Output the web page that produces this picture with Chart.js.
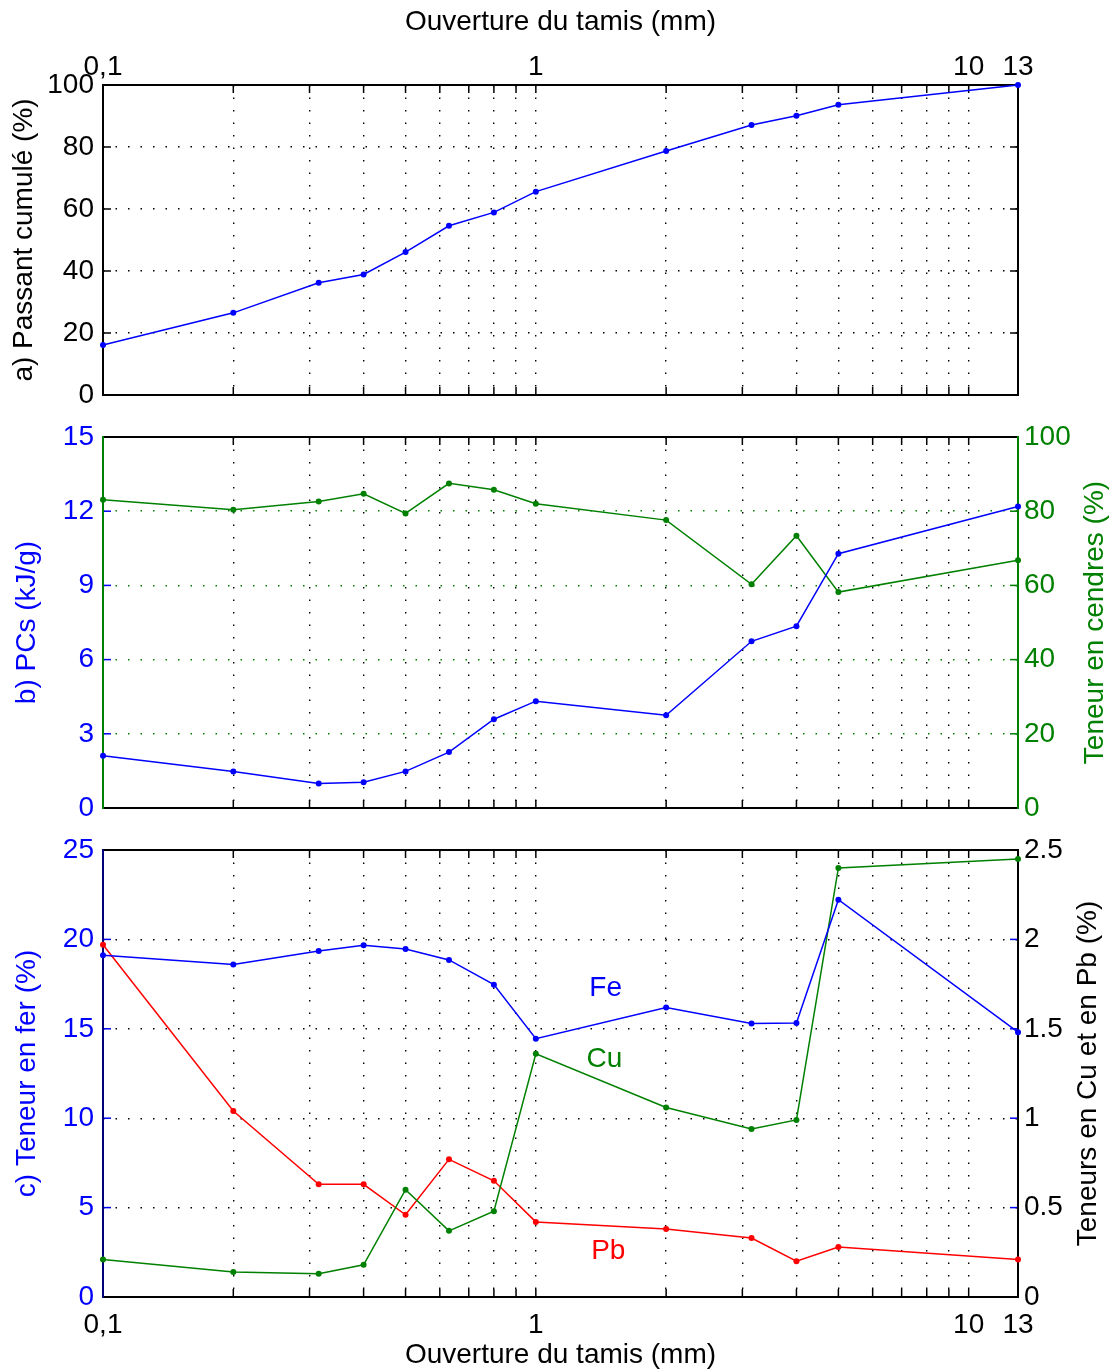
<!DOCTYPE html>
<html>
<head>
<meta charset="utf-8">
<script src="https://cdn.jsdelivr.net/npm/chart.js@4.4.1/dist/chart.umd.min.js"></script>
<style>
  html, body { margin: 0; padding: 0; background: #fff; }
  #page { position: relative; width: 1113px; height: 1372px; }
  .panel { position: absolute; left: 0; width: 1113px; }
  canvas { display: block; }
</style>
</head>
<body>
<div id="page">
  <div class="panel" style="top:0"><canvas id="chartA" width="1113" height="420"></canvas></div>
  <div class="panel" style="top:420px"><canvas id="chartB" width="1113" height="410"></canvas></div>
  <div class="panel" style="top:830px"><canvas id="chartC" width="1113" height="542"></canvas></div>
</div>
<script>
// Ouverture du tamis (mm)
const sieveSizes = [0.1, 0.2, 0.315, 0.4, 0.5, 0.63, 0.8, 1, 2, 3.15, 4, 5, 13];

// a) passant cumulé (%)
const passantCumule = [16.1, 26.5, 36.2, 38.9, 46.1, 54.6, 58.9, 65.6, 78.7, 87.1, 90.1, 93.6, 100];

// b) PCs (kJ/g) et teneur en cendres (%)
const pcs = [2.11, 1.48, 0.99, 1.04, 1.48, 2.26, 3.59, 4.32, 3.75, 6.74, 7.35, 10.28, 12.19];
const cendres = [83.1, 80.4, 82.6, 84.7, 79.4, 87.5, 85.8, 82.0, 77.6, 60.3, 73.4, 58.2, 66.8];

// c) teneurs en Fe (%), Cu et Pb (%)
const fer = [19.12, 18.59, 19.35, 19.67, 19.46, 18.85, 17.47, 14.45, 16.19, 15.3, 15.32, 22.22, 14.81];
const cuivre = [0.21, 0.14, 0.13, 0.18, 0.60, 0.37, 0.48, 1.36, 1.06, 0.94, 0.99, 2.40, 2.45];
const plomb = [1.97, 1.04, 0.63, 0.63, 0.46, 0.77, 0.65, 0.42, 0.38, 0.33, 0.20, 0.28, 0.21];

// axe x logarithmique : graduations et libellés
const xGridValues = [0.1, 0.2, 0.3, 0.4, 0.5, 0.6, 0.7, 0.8, 0.9, 1, 2, 3, 4, 5, 6, 7, 8, 9, 10, 13];
const xLabelValues = [0.1, 1, 10, 13];
const xLabelTexts = ['0,1', '1', '10', '13'];

// étiquettes des courbes (panneau c)
const curveNames = ['Fe', 'Cu', 'Pb'];
const curveNameX = [1.45, 1.44, 1.47];
const curveNameY = [17.25, 13.3, 2.57];

const BLUE = '#0000ff';
const GREEN = '#008000';
const RED = '#ff0000';
const NAVY = '#00007a';
const DOTS = [1.5, 11];
const TICK = 8;
const FONT = "'Liberation Sans', Arial, Helvetica, sans-serif";

Chart.defaults.font.family = FONT;
Chart.defaults.font.size = 28;
Chart.defaults.color = '#000';
Chart.defaults.animation = false;
Chart.defaults.plugins.legend.display = false;
Chart.defaults.plugins.tooltip.enabled = false;

// Cadre, graduations intérieures, étiquettes et titre de droite
const axesBox = {
  id: 'axesBox',
  beforeDatasetsDraw(chart, args, o) {
    const { ctx, chartArea: a, scales } = chart;
    const seg = (x1, y1, x2, y2, c) => {
      ctx.strokeStyle = c;
      ctx.beginPath();
      ctx.moveTo(x1, y1);
      ctx.lineTo(x2, y2);
      ctx.stroke();
    };
    ctx.save();
    ctx.lineWidth = 1.5;
    scales.x.ticks.forEach(t => {
      const px = scales.x.getPixelForValue(t.value);
      seg(px, a.top, px, a.top + TICK, '#000');
      seg(px, a.bottom, px, a.bottom - TICK, '#000');
    });
    (o.yTicks || []).forEach(spec => {
      const s = scales[spec.axis];
      s.ticks.forEach(t => {
        const py = s.getPixelForValue(t.value);
        if (spec.left) seg(a.left, py, a.left + TICK, py, spec.color);
        if (spec.right) seg(a.right, py, a.right - TICK, py, spec.color);
      });
    });
    ctx.lineWidth = 2;
    ctx.lineCap = 'square';
    seg(a.left, a.top, a.right, a.top, o.top);
    seg(a.left, a.bottom, a.right, a.bottom, o.bottom);
    seg(a.left, a.top, a.left, a.bottom, o.left);
    seg(a.right, a.top, a.right, a.bottom, o.right);
    ctx.restore();
  },
  afterDatasetsDraw(chart, args, o) {
    const { ctx, chartArea: a, scales } = chart;
    ctx.save();
    ctx.font = '28px ' + FONT;
    ctx.textAlign = 'center';
    ctx.textBaseline = 'middle';
    (o.labels || []).forEach(l => {
      ctx.fillStyle = l.color;
      ctx.fillText(l.text, scales.x.getPixelForValue(l.x), scales.y.getPixelForValue(l.y));
    });
    if (o.rightTitle) {
      ctx.translate(chart.width - o.rightTitle.inset, (a.top + a.bottom) / 2);
      ctx.rotate(-Math.PI / 2);
      ctx.fillStyle = o.rightTitle.color;
      ctx.fillText(o.rightTitle.text, 0, 0);
    }
    ctx.restore();
  }
};

function xLabel(value) {
  const i = xLabelValues.indexOf(value);
  return i >= 0 ? xLabelTexts[i] : '';
}

function xAxis(position, height, showLabels, pad, title, titlePad) {
  return {
    type: 'logarithmic',
    position: position,
    min: 0.1,
    max: 13,
    afterBuildTicks: axis => { axis.ticks = xGridValues.map(v => ({ value: v })); },
    afterFit: axis => { axis.height = height; },
    grid: { color: '#000', lineWidth: 1.4, drawTicks: false },
    border: { display: false, dash: DOTS },
    ticks: { display: showLabels, autoSkip: false, maxRotation: 0, minRotation: 0, padding: pad, color: '#000', callback: xLabel },
    title: title ? { display: true, text: title, color: '#000', padding: titlePad } : { display: false }
  };
}

function yAxis(position, min, max, step, color, width, opts) {
  return Object.assign({
    type: 'linear',
    position: position,
    min: min,
    max: max,
    afterFit: axis => {
      axis.width = width;
      axis.paddingTop = 0;
      axis.paddingBottom = 0;
    },
    border: { display: false, dash: DOTS },
    ticks: { stepSize: step, color: color, padding: position === 'left' ? 9 : 6, callback: v => String(v) }
  }, opts);
}

function serie(data, color, yAxisID) {
  return {
    data: data.map((v, i) => ({ x: sieveSizes[i], y: v })),
    yAxisID: yAxisID,
    borderColor: color,
    backgroundColor: color,
    borderWidth: 1.5,
    pointRadius: 3,
    pointBorderWidth: 0,
    pointBackgroundColor: color,
    tension: 0,
    clip: false
  };
}

// a) Passant cumulé
new Chart(document.getElementById('chartA'), {
  type: 'line',
  data: { datasets: [serie(passantCumule, BLUE, 'y')] },
  options: {
    responsive: false,
    layout: { padding: { top: 0, bottom: 25, left: 0, right: 95 } },
    scales: {
      x: xAxis('top', 85, true, 1, 'Ouverture du tamis (mm)', { top: 5 }),
      y: yAxis('left', 0, 100, 20, '#000', 103, {
        grid: { color: '#000', lineWidth: 1.4, drawTicks: false },
        title: { display: true, text: 'a) Passant cumulé (%)', color: '#000', padding: { top: 7 } }
      })
    },
    plugins: {
      axesBox: {
        top: '#000', bottom: '#000', left: '#000', right: '#000',
        yTicks: [{ axis: 'y', color: '#000', left: true, right: true }]
      }
    }
  },
  plugins: [axesBox]
});

// b) PCs et cendres
new Chart(document.getElementById('chartB'), {
  type: 'line',
  data: { datasets: [serie(pcs, BLUE, 'y'), serie(cendres, GREEN, 'y1')] },
  options: {
    responsive: false,
    layout: { padding: { top: 17, bottom: 0, left: 0, right: 0 } },
    scales: {
      x: xAxis('bottom', 22, false, 0, null),
      y: yAxis('left', 0, 15, 3, BLUE, 103, {
        grid: { display: false, drawTicks: false },
        title: { display: true, text: 'b) PCs (kJ/g)', color: BLUE, padding: { top: 10 } }
      }),
      y1: yAxis('right', 0, 100, 20, GREEN, 95, {
        grid: { color: GREEN, lineWidth: 1.4, drawTicks: false }
      })
    },
    plugins: {
      axesBox: {
        top: '#000', bottom: '#000', left: GREEN, right: GREEN,
        yTicks: [
          { axis: 'y', color: BLUE, left: true, right: false },
          { axis: 'y1', color: GREEN, left: false, right: true }
        ],
        rightTitle: { text: 'Teneur en cendres (%)', color: GREEN, inset: 18 }
      }
    }
  },
  plugins: [axesBox]
});

// c) Fe, Cu, Pb
new Chart(document.getElementById('chartC'), {
  type: 'line',
  data: { datasets: [serie(fer, BLUE, 'y'), serie(cuivre, GREEN, 'y1'), serie(plomb, RED, 'y1')] },
  options: {
    responsive: false,
    layout: { padding: { top: 20, bottom: 0, left: 0, right: 0 } },
    scales: {
      x: xAxis('bottom', 75, true, 11, 'Ouverture du tamis (mm)', { bottom: 0 }),
      y: yAxis('left', 0, 25, 5, BLUE, 103, {
        grid: { color: '#000', lineWidth: 1.4, drawTicks: false },
        title: { display: true, text: 'c) Teneur en fer (%)', color: BLUE, padding: { top: 10 } }
      }),
      y1: yAxis('right', 0, 2.5, 0.5, '#000', 95, {
        grid: { display: false, drawTicks: false }
      })
    },
    plugins: {
      axesBox: {
        top: '#000', bottom: '#000', left: NAVY, right: '#000',
        yTicks: [{ axis: 'y', color: BLUE, left: true, right: true }],
        labels: curveNames.map((t, i) => ({ text: t, x: curveNameX[i], y: curveNameY[i], color: [BLUE, GREEN, RED][i] })),
        rightTitle: { text: 'Teneurs en Cu et en Pb (%)', color: '#000', inset: 25 }
      }
    }
  },
  plugins: [axesBox]
});
</script>
</body>
</html>
